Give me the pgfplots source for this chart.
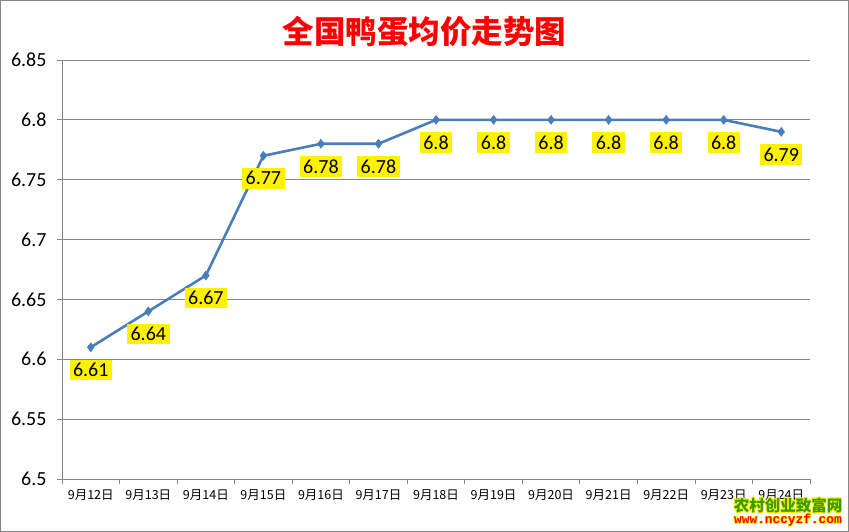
\documentclass[border=0pt]{standalone}
\usepackage{pgfplots}
\pgfplotsset{compat=1.18}
\usepackage{fontspec}
\setmainfont{Carlito}
\newfontfamily\cjk{Noto Sans CJK SC}
\newfontfamily\monob{Liberation Mono}
\usepackage{contour}
\contourlength{0.9pt}
\contournumber{8}
\definecolor{lineblue}{HTML}{4A7EBB}
\definecolor{gridgray}{HTML}{868686}
\definecolor{wmgreen}{HTML}{3A9A00}

\begin{document}
\begin{tikzpicture}
\begin{axis}[
    at={(62pt,53pt)}, anchor=south west,
    scale only axis,
    width=748pt, height=419pt,
    xmin=-0.5, xmax=12.5,
    ymin=6.5, ymax=6.85,
    axis lines*=left,
    axis line style={gridgray, line width=0.8pt, -},
    ymajorgrids,
    grid style={gridgray, line width=0.8pt},
    tick align=outside,
    major tick length=5pt, minor tick length=5pt,
    tick style={gridgray, line width=0.8pt},
    xtick={0,1,2,3,4,5,6,7,8,9,10,11,12},
    xticklabels={9月12日,9月13日,9月14日,9月15日,9月16日,9月17日,9月18日,9月19日,9月20日,9月21日,9月22日,9月23日,9月24日},
    major x tick style={draw=none},
    minor xtick={-0.5,0.5,1.5,2.5,3.5,4.5,5.5,6.5,7.5,8.5,9.5,10.5,11.5,12.5},
    xticklabel style={font=\cjk\fontsize{12.5}{14}\selectfont, yshift=-2pt},
    ytick={6.5,6.55,6.6,6.65,6.7,6.75,6.8,6.85},
    yticklabels={6.5,6.55,6.6,6.65,6.7,6.75,6.8,6.85},
    yticklabel style={font=\fontsize{20}{22}\selectfont, xshift=-7pt},
    clip=false,
]
\addplot[lineblue, line width=2.6pt, mark=diamond*, mark size=4.6pt,
    mark options={solid, line width=0.4pt},
    nodes near coords, point meta=explicit symbolic,
    nodes near coords align={below},
    every node near coord/.append style={anchor=north, yshift=-12pt, fill=yellow,
        inner sep=3.5pt, text=black, font=\fontsize{20}{22}\selectfont}]
coordinates {
    (0,6.61)[6.61] (1,6.64)[6.64] (2,6.67)[6.67] (3,6.77)[6.77]
    (4,6.78)[6.78] (5,6.78)[6.78] (6,6.8)[6.8] (7,6.8)[6.8]
    (8,6.8)[6.8] (9,6.8)[6.8] (10,6.8)[6.8] (11,6.8)[6.8] (12,6.79)[6.79]
};
\end{axis}
\node[font=\cjk\bfseries\fontsize{31.5}{33}\selectfont, text=red] at (424.5pt,500pt) {全国鸭蛋均价走势图};
\node[font=\cjk\bfseries\fontsize{15.5}{16}\selectfont, text=wmgreen, inner sep=0pt] at (788pt,26pt) {\contour{yellow}{农村创业致富网}};
\node[font=\monob\bfseries\fontsize{12.8}{14}\selectfont, text=red, inner sep=0pt] at (788pt,11pt) {\contour{yellow}{www.nccyzf.com}};
\draw[gridgray, line width=1pt] (0.5pt,0.5pt) rectangle (848.5pt,531.5pt);
\pgfresetboundingbox
\useasboundingbox (0,0) rectangle (849pt,532pt);
\end{tikzpicture}
\end{document}
